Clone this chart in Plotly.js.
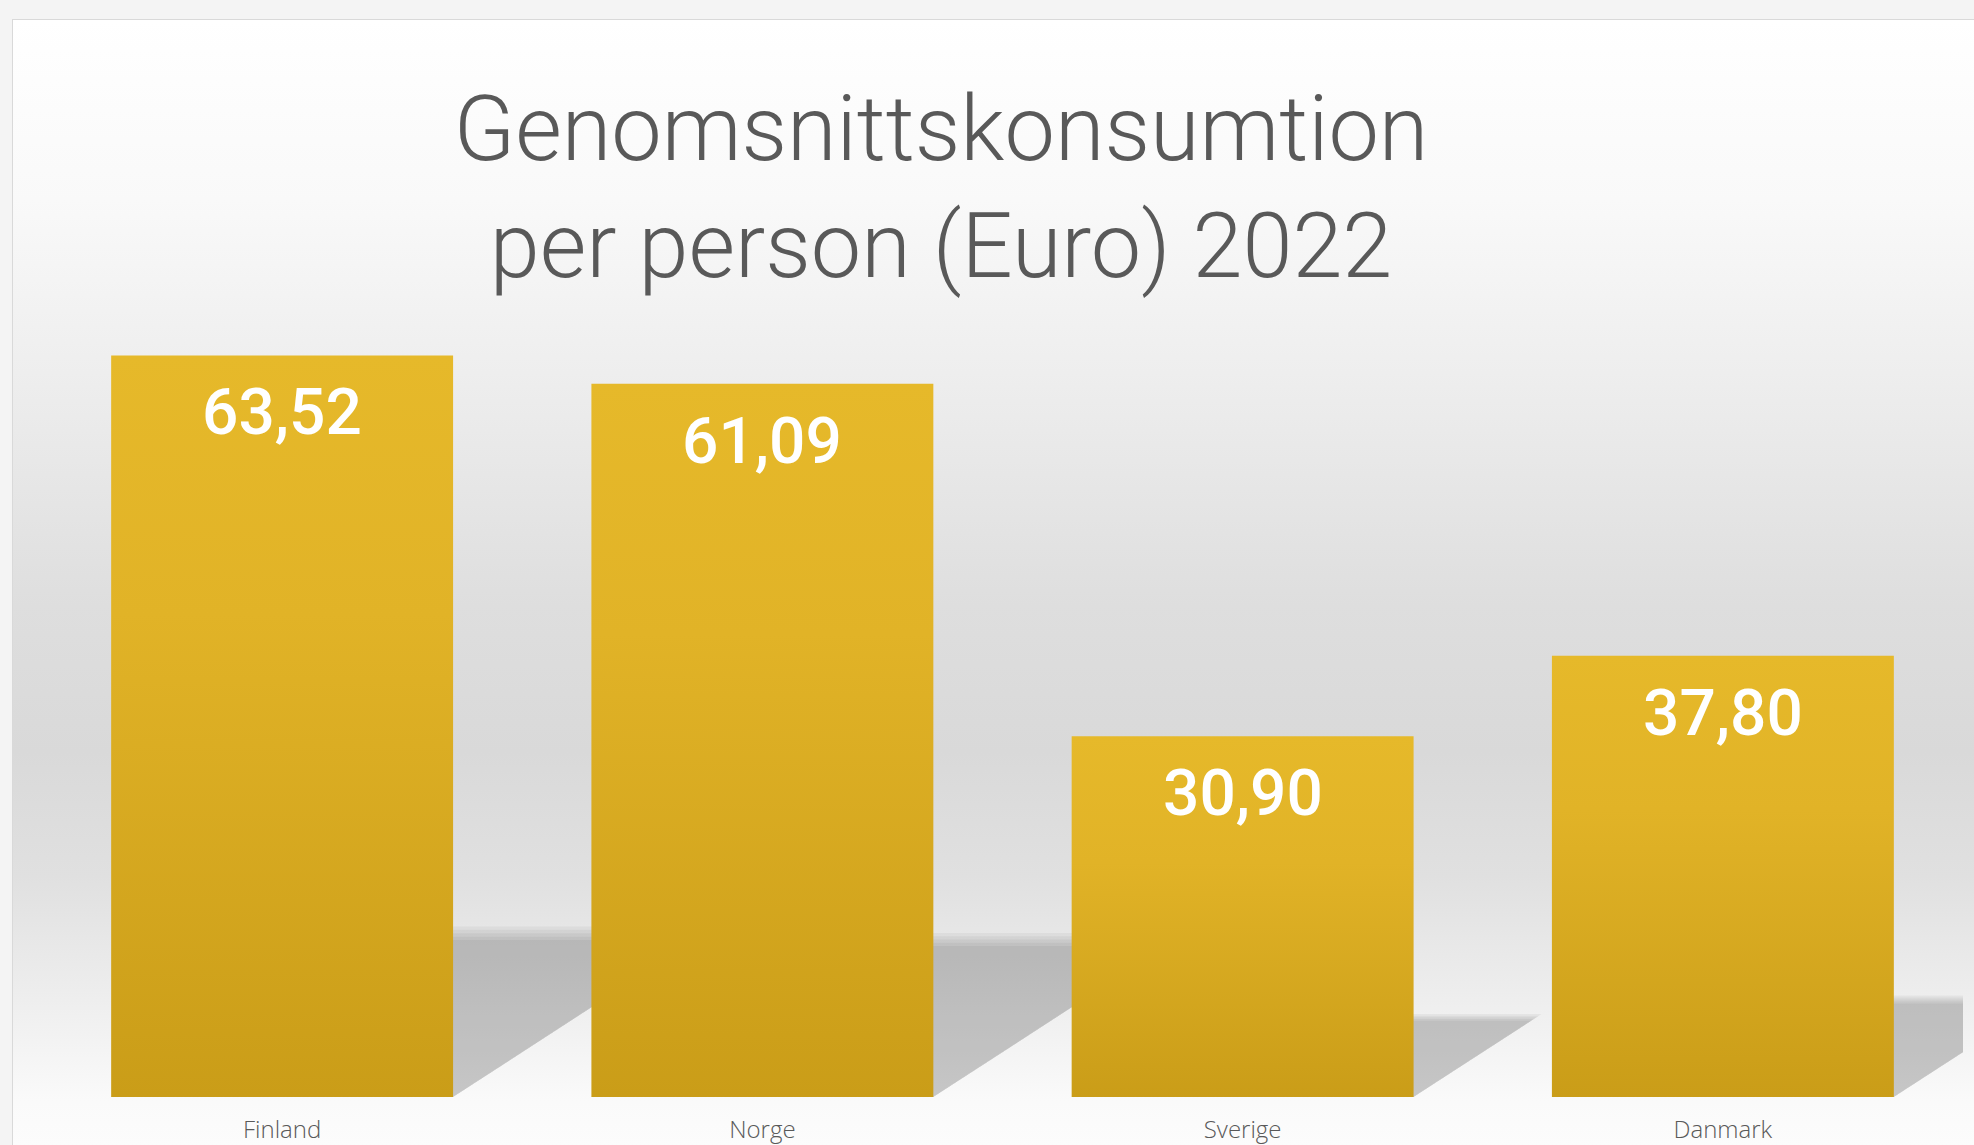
<!DOCTYPE html>
<html>
<head>
<meta charset="utf-8">
<script src="https://cdn.plot.ly/plotly-3.0.1.min.js"></script>
<style>
  html, body { margin: 0; padding: 0; width: 1974px; height: 1145px; overflow: hidden; background: #f4f4f4; }
  #frame {
    position: absolute; left: 12px; top: 19px; width: 1962px; height: 1126px;
    border-left: 1px solid #d9d9d9; border-top: 1px solid #d9d9d9;
    background: linear-gradient(to bottom,
      #ffffff 0%, #f9f9f9 16%, #efefef 30%, #dedede 52%, #d9d9d9 65%,
      #e0e0e0 76%, #eeeeee 87%, #fafafa 96%, #fcfcfc 100%);
  }
  #chart { position: absolute; left: 0; top: 0; width: 1974px; height: 1145px; }
  .js-plotly-plot .barlayer .point path { fill: url(#barGrad) !important; }
</style>
</head>
<body>
<svg width="0" height="0" style="position:absolute">
  <defs>
    <linearGradient id="barGrad" x1="0" y1="0" x2="0" y2="1">
      <stop offset="0" stop-color="#e6b92a"/>
      <stop offset="0.35" stop-color="#e1b327"/>
      <stop offset="1" stop-color="#ca9d18"/>
    </linearGradient>
  </defs>
</svg>
<div id="frame"></div>
<div id="chart"></div>
<script>
const categories = ["Finland", "Norge", "Sverige", "Danmark"];
const values = [63.52, 61.09, 30.90, 37.80];
const titleText = "Genomsnittskonsumtion<br>per person (Euro) 2022";

const bargap = 0.288;
const barWidth = 1 - bargap;

function fmt(v) { return v.toFixed(2).replace('.', ','); }

// soft "floor reflection" shadows, derived from each bar's value
const shapes = [];
values.forEach((v, i) => {
  const x0 = i - barWidth / 2;
  const x1 = i + barWidth / 2;
  const dx = v * 0.00863;
  [1.0, 0.98, 0.96, 0.94, 0.92].forEach(k => {
    const dy = v * 0.23 * k;
    const ddx = dx * k;
    shapes.push({
      type: 'path', xref: 'x', yref: 'y', layer: 'below',
      path: `M ${x0} 0 L ${x1} 0 L ${x1 + ddx} ${dy} L ${x0 + ddx} ${dy} Z`,
      fillcolor: 'rgba(0,0,0,0.042)',
      line: {width: 0}
    });
  });
});

// value labels inside the top of each bar
const annotations = values.map((v, i) => ({
  x: categories[i], y: v, xref: 'x', yref: 'y',
  text: fmt(v), showarrow: false,
  xanchor: 'center', yanchor: 'top', yshift: -18,
  font: {family: 'Roboto, sans-serif', size: 64, color: '#ffffff', weight: 500}
}));

const trace = {
  type: 'bar',
  x: categories,
  y: values,
  marker: {color: '#d8aa21', line: {width: 0}},
  hoverinfo: 'skip'
};

const layout = {
  width: 1974,
  height: 1145,
  separators: ',.',
  paper_bgcolor: 'rgba(0,0,0,0)',
  plot_bgcolor: 'rgba(0,0,0,0)',
  margin: {l: 42, r: 11, t: 163, b: 48, pad: 0},
  bargap: bargap,
  showlegend: false,
  title: {
    text: titleText,
    font: {family: 'Roboto, sans-serif', size: 90, color: '#595959', weight: 300},
    x: 941 / 1974, xref: 'container', xanchor: 'center',
    y: 1 - 160 / 1145, yref: 'container', yanchor: 'top'
  },
  xaxis: {
    type: 'category',
    range: [-0.5, categories.length - 0.5],
    autorange: false,
    showgrid: false, zeroline: false, showline: false, ticks: '',
    tickfont: {family: '"Open Sans", "Noto Sans", sans-serif', size: 24, color: '#595959', weight: 300},
    ticklabelstandoff: 16,
    fixedrange: true
  },
  yaxis: {
    range: [0, 80],
    autorange: false,
    visible: false,
    showgrid: false, zeroline: false,
    fixedrange: true
  },
  shapes: shapes,
  annotations: annotations
};

Plotly.newPlot('chart', [trace], layout, {displayModeBar: false, staticPlot: true});
</script>
</body>
</html>
